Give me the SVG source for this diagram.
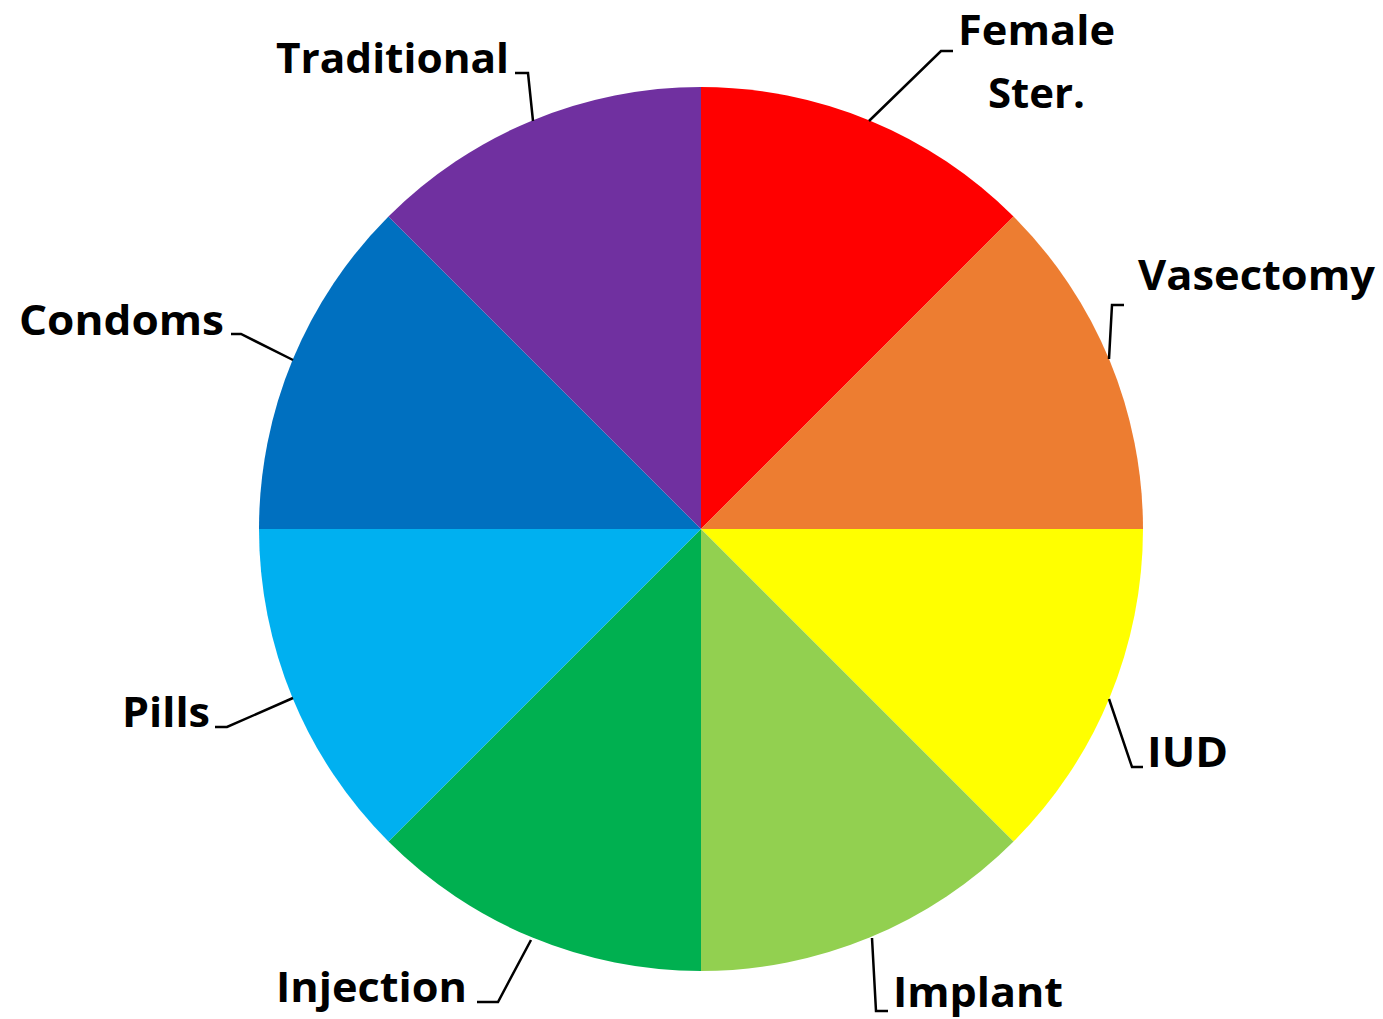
<svg xmlns="http://www.w3.org/2000/svg" width="1383" height="1019" viewBox="0 0 1383 1019">
<style>
.lbl{font-family:"Open Sans","Liberation Sans",sans-serif;font-weight:700;font-size:42px;fill:#000}
.ld{fill:none;stroke:#000;stroke-width:2.5;stroke-linejoin:miter}
</style>
<rect width="1383" height="1019" fill="#fff"/>
<g id="slices">
<g id="female-ster"><path d="M701,529 L701,87 A442,442 0 0 1 1013.54,216.46 Z" fill="#FF0000"/></g>
<g id="vasectomy"><path d="M701,529 L1013.54,216.46 A442,442 0 0 1 1143,529 Z" fill="#ED7D31"/></g>
<g id="iud"><path d="M701,529 L1143,529 A442,442 0 0 1 1013.54,841.54 Z" fill="#FFFF00"/></g>
<g id="implant"><path d="M701,529 L1013.54,841.54 A442,442 0 0 1 701,971 Z" fill="#92D050"/></g>
<g id="injection"><path d="M701,529 L701,971 A442,442 0 0 1 388.46,841.54 Z" fill="#00B050"/></g>
<g id="pills"><path d="M701,529 L388.46,841.54 A442,442 0 0 1 259,529 Z" fill="#00B0F0"/></g>
<g id="condoms"><path d="M701,529 L259,529 A442,442 0 0 1 388.46,216.46 Z" fill="#0070C0"/></g>
<g id="traditional"><path d="M701,529 L388.46,216.46 A442,442 0 0 1 701,87 Z" fill="#7030A0"/></g>
</g>
<g id="connectors">
<polyline class="ld" points="869,121 941,51 953,51"/>
<polyline class="ld" points="1109,359 1112,305 1124,305"/>
<polyline class="ld" points="1109,699 1132,767 1143,767"/>
<polyline class="ld" points="872,938 876,1011 888,1011"/>
<polyline class="ld" points="531,940 498,1002 477,1002"/>
<polyline class="ld" points="293,698 227,727 215,727"/>
<polyline class="ld" points="293,360 241,334 231,334"/>
<polyline class="ld" points="533,121 528,73 515,73"/>
</g>
<g id="labels">
<g id="lbl-female"><text class="lbl" x="958" y="45" textLength="157" lengthAdjust="spacingAndGlyphs">Female</text><text class="lbl" x="988" y="108" textLength="97" lengthAdjust="spacingAndGlyphs">Ster.</text></g>
<g id="lbl-vasectomy"><text class="lbl" x="1138" y="290" textLength="237" lengthAdjust="spacingAndGlyphs">Vasectomy</text></g>
<g id="lbl-iud"><text class="lbl" x="1147" y="767" textLength="81" lengthAdjust="spacingAndGlyphs">IUD</text></g>
<g id="lbl-implant"><text class="lbl" x="893" y="1007" textLength="170" lengthAdjust="spacingAndGlyphs">Implant</text></g>
<g id="lbl-injection"><text class="lbl" x="276" y="1002" textLength="191" lengthAdjust="spacingAndGlyphs">Injection</text></g>
<g id="lbl-pills"><text class="lbl" x="122" y="727" textLength="88" lengthAdjust="spacingAndGlyphs">Pills</text></g>
<g id="lbl-condoms"><text class="lbl" x="19" y="335" textLength="205" lengthAdjust="spacingAndGlyphs">Condoms</text></g>
<g id="lbl-traditional"><text class="lbl" x="276" y="73" textLength="233" lengthAdjust="spacingAndGlyphs">Traditional</text></g>
</g>
</svg>
